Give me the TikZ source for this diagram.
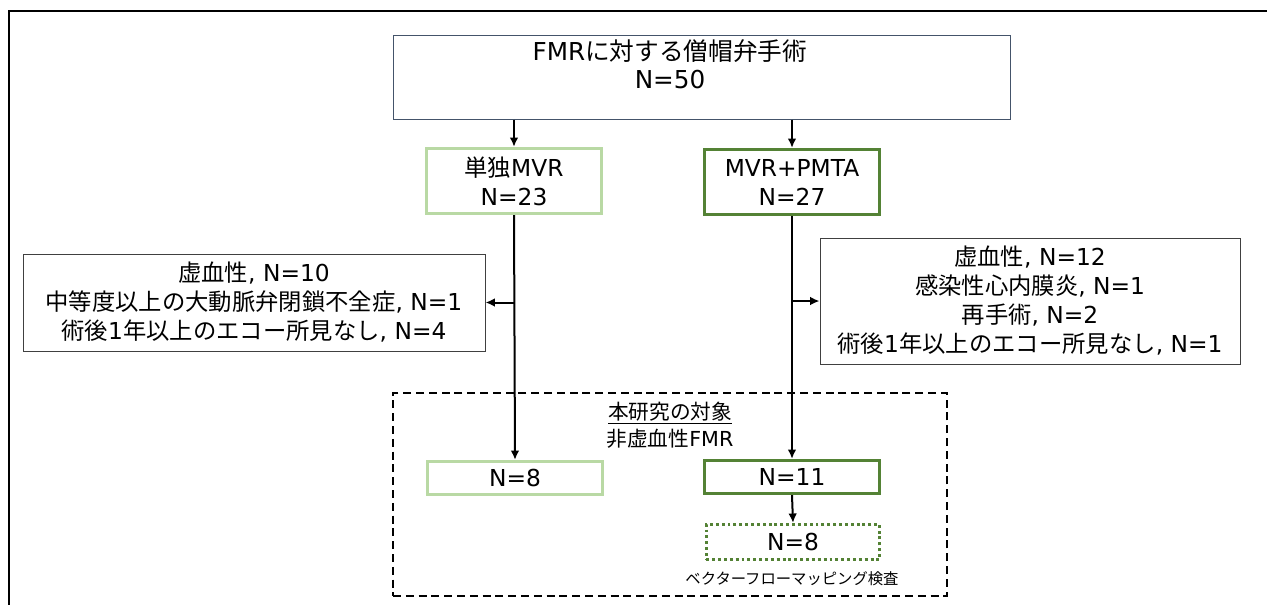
\documentclass[tikz,border=0pt]{standalone}
\usepackage{fontspec}
\setmainfont{Noto Sans CJK JP}
\newfontfamily\lat{DejaVu Sans}
\usetikzlibrary{arrows.meta}
\definecolor{lgreen}{HTML}{B9D9A4}
\definecolor{dgreen}{HTML}{548235}
\definecolor{tblue}{HTML}{44546A}
\definecolor{exgray}{HTML}{404040}
\begin{document}
\begin{tikzpicture}[x=0.75pt,y=-0.75pt,
  box/.style={rectangle, align=center, inner sep=0pt, fill=white},
  mainfont/.style={font=\fontsize{17.5pt}{21.75pt}\selectfont},
  lbox/.style={box, mainfont, draw=lgreen, line width=2.2pt},
  dbox/.style={box, mainfont, draw=dgreen, line width=2.2pt},
  exbox/.style={box, mainfont, draw=exgray, line width=0.75pt},
  arr/.style={-{Latex[length=7pt,width=6.5pt]}, line width=1.5pt},
]
\useasboundingbox (0,0) rectangle (1267,604);
\begin{scope}
\clip (0,0) rectangle (1267,604);
\draw[line width=1.8pt] (9,640) -- (9,11) -- (1300,11);
\end{scope}

% top box
\node[box, draw=tblue, line width=0.75pt, minimum width=462.75pt, minimum height=63pt] (top) at (701.5,77) {};
\node[align=center, font=\fontsize{18.5pt}{21pt}\selectfont] (toptxt) at (670,64) {{\lat FMR}に対する僧帽弁手術\\{\lat N=50}};

% groups
\node[lbox, minimum width=131.5pt, minimum height=49pt] (b1) at (514,181) {単独{\lat MVR}\\{\lat N=23}};
\node[dbox, minimum width=131.5pt, minimum height=49pt] (b2) at (792,182) {{\lat MVR+PMTA}\\{\lat N=27}};

% exclusions
\node[exbox, minimum width=346.5pt, minimum height=72.75pt] (ex1) at (254,302.5)
  {虚血性{\lat , N=10}\\中等度以上の大動脈弁閉鎖不全症{\lat , N=1}\\術後{\lat 1}年以上のエコー所見なし{\lat , N=4}};
\node[exbox, minimum width=315pt, minimum height=94.5pt] (ex2) at (1030,301)
  {虚血性{\lat , N=12}\\感染性心内膜炎{\lat , N=1}\\再手術{\lat , N=2}\\術後{\lat 1}年以上のエコー所見なし{\lat , N=1}};

% study area
\node[box, fill=none, draw=black, line width=1.1pt, dash pattern=on 6pt off 3.6pt,
  minimum width=415.5pt, minimum height=152.25pt] (study) at (670,494.5) {};
\node[font=\fontsize{15.5pt}{18pt}\selectfont] (studylbl) at (670,413) {\underline{本研究の対象}};
\node[font=\fontsize{15.5pt}{18pt}\selectfont] (sublbl) at (670,439) {非虚血性{\lat FMR}};

\node[lbox, minimum width=131pt, minimum height=25pt] (c1) at (515,478) {\lat N=8};
\node[dbox, minimum width=131pt, minimum height=25pt] (c2) at (792,477) {\lat N=11};
\node[box, mainfont, draw=dgreen, line width=2.2pt, dash pattern=on 2.2pt off 2.2pt,
  minimum width=130pt, minimum height=26.5pt] (d) at (793,542) {\lat N=8};
\node[font=\fontsize{11.5pt}{14pt}\selectfont] (vfm) at (792,579) {ベクターフローマッピング検査};

% connectors
\draw[arr] (top.south -| b1.north) -- (b1.north);
\draw[arr] (top.south -| b2.north) -- (b2.north);
\draw[arr] (b1.south) -- (c1.north);
\draw[arr] (b2.south) -- (c2.north);
\coordinate (j1) at (b1.south |- ex1.east);
\coordinate (j2) at (b2.south |- ex2.west);
\draw[arr] (j1) -- (ex1.east);
\draw[arr] (j2) -- (ex2.west);
\draw[arr] (c2.south) -- (d.north);
\end{tikzpicture}
\end{document}
